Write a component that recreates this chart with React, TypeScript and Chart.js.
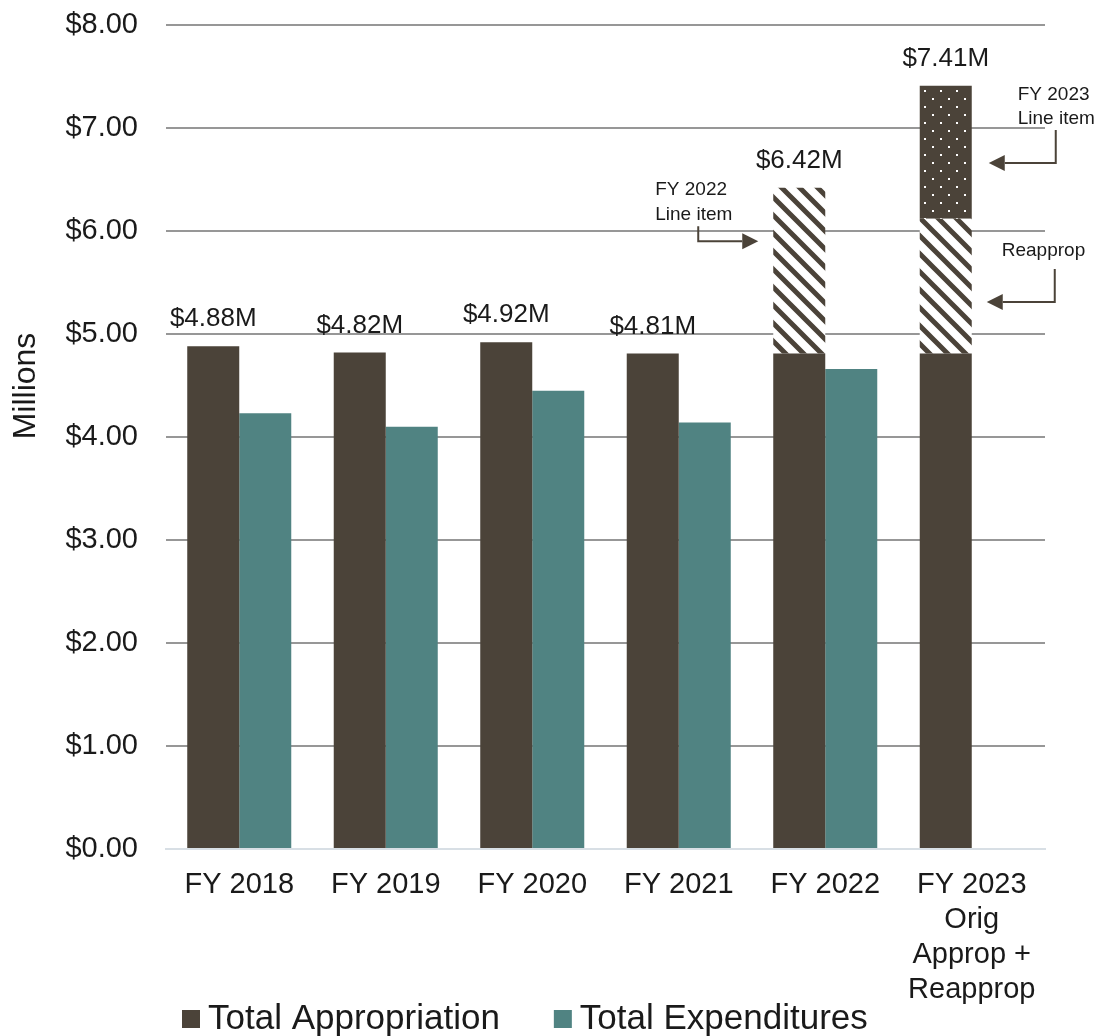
import React, { useEffect, useRef } from 'react';
import { Chart, registerables } from 'chart.js';

Chart.register(...registerables);

const categories: (string | string[])[] = [
  'FY 2018',
  'FY 2019',
  'FY 2020',
  'FY 2021',
  'FY 2022',
  ['FY 2023', 'Orig', 'Approp +', 'Reapprop'],
];
const appropriation = [4.88, 4.82, 4.92, 4.81, 4.81, 4.81];
const lineItemReapprop = [null, null, null, null, 1.61, 1.31];
const fy2023LineItem = [null, null, null, null, null, 1.29];
const expenditures = [4.23, 4.1, 4.45, 4.14, 4.66, null];
const legendLabels = ['Total Appropriation', 'Total Expenditures'];
const yTitle = 'Millions';

const DARK = '#4b4339';
const TEAL = '#508382';
const TEXT = '#1a1a1a';
const FONT = '"Liberation Sans", Arial, sans-serif';

function makeHatch(): CanvasPattern | string {
  const s = 18;
  const c = document.createElement('canvas');
  c.width = s;
  c.height = s;
  const g = c.getContext('2d');
  if (!g) return DARK;
  g.fillStyle = '#ffffff';
  g.fillRect(0, 0, s, s);
  g.strokeStyle = DARK;
  g.lineWidth = 5;
  g.beginPath();
  for (const o of [-s, 0, s]) {
    g.moveTo(o - 3, -3);
    g.lineTo(o + s + 3, s + 3);
  }
  g.stroke();
  return g.createPattern(c, 'repeat') as CanvasPattern;
}

function makeDots(): CanvasPattern | string {
  const s = 16;
  const c = document.createElement('canvas');
  c.width = s;
  c.height = s;
  const g = c.getContext('2d');
  if (!g) return DARK;
  g.fillStyle = DARK;
  g.fillRect(0, 0, s, s);
  g.fillStyle = '#ffffff';
  g.fillRect(4, 2, 2, 2);
  g.fillRect(12, 10, 2, 2);
  return g.createPattern(c, 'repeat') as CanvasPattern;
}

function arrow(ctx: CanvasRenderingContext2D, pts: [number, number][], dir: 1 | -1) {
  const tip = pts[pts.length - 1];
  const headLen = 16;
  const half = 8;
  ctx.save();
  ctx.strokeStyle = DARK;
  ctx.fillStyle = DARK;
  ctx.lineWidth = 2;
  ctx.beginPath();
  ctx.moveTo(pts[0][0], pts[0][1]);
  for (let i = 1; i < pts.length - 1; i++) ctx.lineTo(pts[i][0], pts[i][1]);
  ctx.lineTo(tip[0] - dir * headLen, tip[1]);
  ctx.stroke();
  ctx.beginPath();
  ctx.moveTo(tip[0], tip[1]);
  ctx.lineTo(tip[0] - dir * headLen, tip[1] - half);
  ctx.lineTo(tip[0] - dir * headLen, tip[1] + half);
  ctx.closePath();
  ctx.fill();
  ctx.restore();
}

const overlayPlugin = {
  id: 'overlay',
  afterDatasetsDraw(chart: any) {
    const ctx: CanvasRenderingContext2D = chart.ctx;
    const y = chart.scales.y;
    const base = chart.getDatasetMeta(0);

    // value labels
    ctx.save();
    ctx.fillStyle = TEXT;
    ctx.font = `26px ${FONT}`;
    ctx.textAlign = 'center';
    ctx.textBaseline = 'alphabetic';
    appropriation.forEach((v, i) => {
      const total = v + (lineItemReapprop[i] || 0) + (fy2023LineItem[i] || 0);
      const el = base.data[i];
      ctx.fillText(`$${total.toFixed(2)}M`, el.x, y.getPixelForValue(total) - 20);
    });
    ctx.restore();

    // annotations
    ctx.save();
    ctx.fillStyle = TEXT;
    ctx.font = `19px ${FONT}`;
    ctx.textAlign = 'left';
    ctx.textBaseline = 'middle';
    const b22: any = base.data[4];
    const left22 = b22.x - b22.width / 2;
    {
      const tx = left22 - 15;
      const ty = y.getPixelForValue(5.9);
      arrow(ctx, [[tx - 60, ty - 15], [tx - 60, ty], [tx, ty]], 1);
      ctx.fillText('FY 2022', tx - 103, ty - 52);
      ctx.fillText('Line item', tx - 103, ty - 27);
    }
    const b23: any = base.data[5];
    const right23 = b23.x + b23.width / 2;
    {
      const tx = right23 + 17;
      const ty = y.getPixelForValue(6.66);
      arrow(ctx, [[tx + 67, ty - 33], [tx + 67, ty], [tx, ty]], -1);
      ctx.fillText('FY 2023', tx + 29, ty - 68);
      ctx.fillText('Line item', tx + 29, ty - 44);
    }
    {
      const tx = right23 + 15;
      const ty = y.getPixelForValue(5.31);
      arrow(ctx, [[tx + 68, ty - 33], [tx + 68, ty], [tx, ty]], -1);
      ctx.fillText('Reapprop', tx + 15, ty - 51);
    }
    ctx.restore();

    // y-axis title
    ctx.save();
    ctx.fillStyle = TEXT;
    ctx.font = `32px ${FONT}`;
    ctx.textAlign = 'center';
    ctx.textBaseline = 'middle';
    ctx.translate(26, 386);
    ctx.rotate(-Math.PI / 2);
    ctx.fillText(yTitle, 0, 0);
    ctx.restore();

    // legend
    ctx.save();
    ctx.font = `35px ${FONT}`;
    ctx.textAlign = 'left';
    ctx.textBaseline = 'middle';
    const colors = [DARK, TEAL];
    let lx = 182;
    const ly = 1019;
    legendLabels.forEach((lab, i) => {
      ctx.fillStyle = colors[i];
      ctx.fillRect(lx, ly - 9, 18, 18);
      ctx.fillStyle = TEXT;
      ctx.fillText(lab, lx + 26, ly);
      lx += 26 + ctx.measureText(lab).width + 54;
    });
    ctx.restore();
  },
};

export default function App() {
  const ref = useRef<HTMLCanvasElement>(null);
  useEffect(() => {
    if (!ref.current) return;
    const hatch = makeHatch();
    const dots = makeDots();
    const chart = new Chart(ref.current, {
      type: 'bar',
      data: {
        labels: categories as any,
        datasets: [
          { label: legendLabels[0], data: appropriation, backgroundColor: DARK, stack: 'approp' },
          { label: 'Line item / Reapprop', data: lineItemReapprop as any, backgroundColor: hatch as any, stack: 'approp' },
          { label: 'FY 2023 Line item', data: fy2023LineItem as any, backgroundColor: dots as any, stack: 'approp' },
          { label: legendLabels[1], data: expenditures as any, backgroundColor: TEAL, stack: 'exp' },
        ],
      },
      options: {
        responsive: false,
        animation: false,
        events: [],
        categoryPercentage: 0.71,
        barPercentage: 1,
        layout: { padding: { top: 25, right: 56, left: 0, bottom: 0 } },
        plugins: {
          legend: { display: false },
          tooltip: { enabled: false },
          title: { display: false },
        },
        scales: {
          x: {
            stacked: true,
            grid: { display: false, drawTicks: false },
            border: { display: true, color: '#d8dfe5', width: 2 },
            ticks: {
              color: TEXT,
              font: { family: FONT, size: 29 },
              padding: 19,
              maxRotation: 0,
              autoSkip: false,
            },
            afterFit(scale: any) {
              scale.height = 187;
              scale.paddingLeft = 0;
              scale.paddingRight = 0;
              scale.paddingTop = 0;
              scale.paddingBottom = 0;
            },
          },
          y: {
            stacked: true,
            min: 0,
            max: 8,
            border: { display: false },
            grid: {
              drawTicks: false,
              lineWidth: 2,
              color: (c: any) => (c.tick && c.tick.value === 0 ? '#d8dfe5' : '#979797'),
            },
            ticks: {
              stepSize: 1,
              color: TEXT,
              font: { family: FONT, size: 29 },
              padding: 28,
              callback: (v: any) => `$${Number(v).toFixed(2)}`,
            },
            afterFit(scale: any) {
              scale.width = 166;
              scale.paddingLeft = 0;
              scale.paddingRight = 0;
              scale.paddingTop = 0;
              scale.paddingBottom = 0;
            },
          },
        },
      },
      plugins: [overlayPlugin],
    });
    return () => chart.destroy();
  }, []);
  return (
    <div style={{ position: 'fixed', left: 0, top: 0, width: 1101, height: 1036 }}>
      <canvas ref={ref} width={1101} height={1036} style={{ display: 'block' }} />
    </div>
  );
}
